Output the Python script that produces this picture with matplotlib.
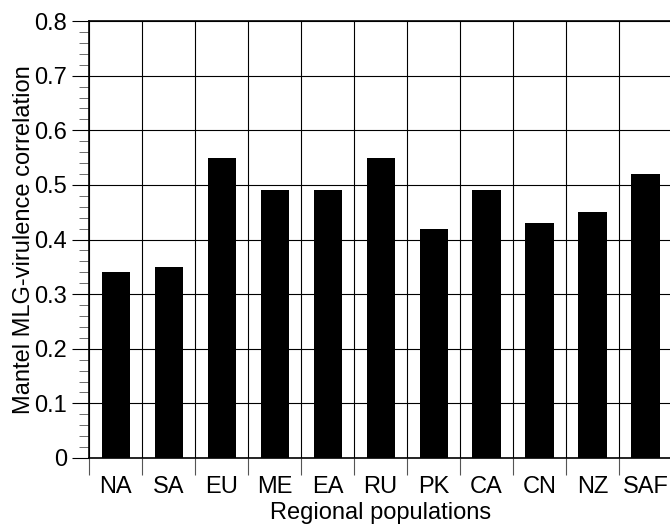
import matplotlib
matplotlib.use("Agg")
import matplotlib.pyplot as plt
import numpy as np
from matplotlib.ticker import MultipleLocator, FixedLocator, NullFormatter, FixedFormatter

categories = ["NA", "SA", "EU", "ME", "EA", "RU", "PK", "CA", "CN", "NZ", "SAF"]
values = [0.34, 0.35, 0.55, 0.49, 0.49, 0.55, 0.42, 0.49, 0.43, 0.45, 0.52]

plt.rcParams['font.family'] = ['Liberation Sans', 'DejaVu Sans']
FS = 17

fig = plt.figure(figsize=(6.7, 5.27), dpi=100)
ax = fig.add_axes([0.133, 0.131, 1.003 - 0.133, 0.960 - 0.131])

x = np.arange(len(categories))
ax.bar(x, values, width=0.53, color='black', zorder=3)

ax.set_xlim(-0.5, len(categories) - 0.5)
ax.set_ylim(0, 0.8)

# x: major ticks at boundaries (no labels), minor at centers (labels)
ax.xaxis.set_major_locator(FixedLocator(np.arange(len(categories) + 1) - 0.5))
ax.xaxis.set_major_formatter(NullFormatter())
ax.xaxis.set_minor_locator(FixedLocator(x))
ax.xaxis.set_minor_formatter(FixedFormatter(categories))
ax.tick_params(axis='x', which='major', length=12, width=0.8, direction='out', color='#555555')
ax.tick_params(axis='x', which='minor', length=0, labelsize=FS, pad=13)

ax.set_yticks(np.arange(0, 0.81, 0.1))
ax.set_yticklabels(["0"] + [f"{v:.1f}" for v in np.arange(0.1, 0.81, 0.1)])
ax.yaxis.set_minor_locator(MultipleLocator(0.02))
ax.tick_params(axis='y', which='major', length=12, width=0.8, labelsize=FS, pad=4)
ax.tick_params(axis='y', which='minor', length=7, width=0.6, color='#555555')

ax.grid(True, which='major', axis='both', color='black', linewidth=0.8, zorder=1)
ax.set_axisbelow(True)

for s in ['top', 'left', 'bottom']:
    ax.spines[s].set_linewidth(1.2)
ax.spines['right'].set_visible(False)

ax.set_xlabel("Regional populations", fontsize=FS, labelpad=3)
ax.set_ylabel("Mantel MLG-virulence correlation", fontsize=FS, labelpad=-1)

fig.savefig("out.png", dpi=100)
